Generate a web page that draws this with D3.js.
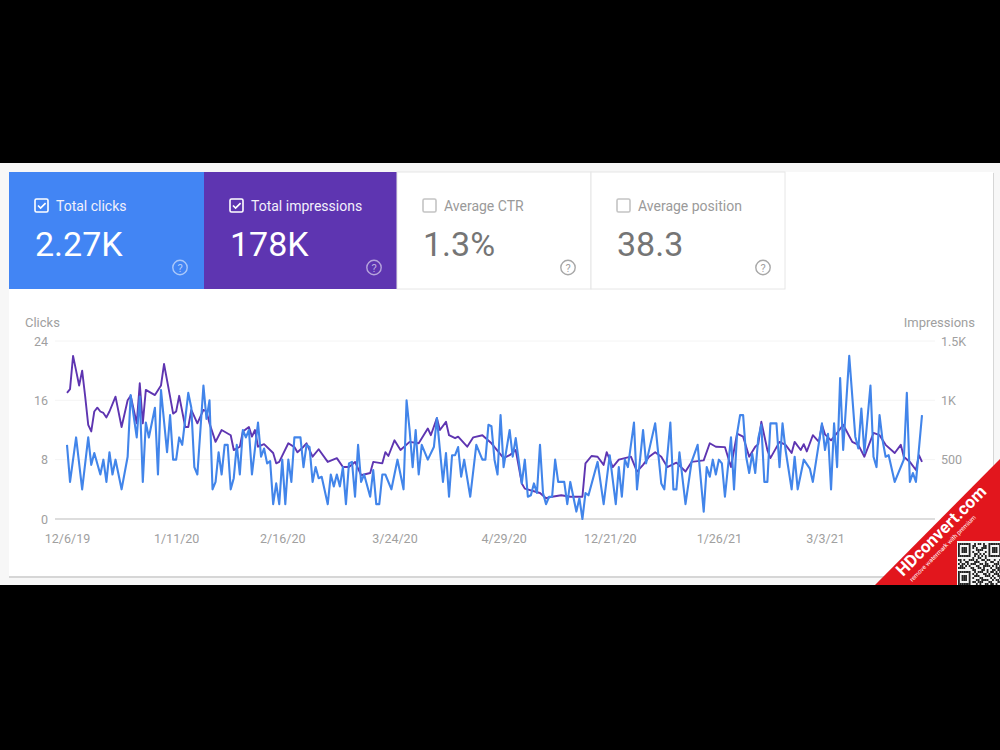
<!DOCTYPE html>
<html>
<head>
<meta charset="utf-8">
<script src="https://cdn.jsdelivr.net/npm/d3@7/dist/d3.min.js"></script>
<style>
  html, body { margin: 0; padding: 0; background: #000; }
  svg { display: block; }
  text { font-family: Roboto, "Open Sans", sans-serif; }
</style>
</head>
<body>
<svg id="chart" width="1000" height="750"></svg>
<script>
// Performance report: daily clicks and impressions, with summary tiles.
const metricNames = ["Total clicks", "Total impressions", "Average CTR", "Average position"];
const metricValues = ["2.27K", "178K", "1.3%", "38.3"];
const metricChecked = [true, true, false, false];

const dateLabels = ["12/6/19", "1/11/20", "2/16/20", "3/24/20", "4/29/20", "12/21/20", "1/26/21", "3/3/21"];
const dateTicks = [0, 36, 71, 108, 144, 179, 215, 250];
const clickTicks = [0, 8, 16, 24];
const impressionTicks = [0, 500, 1000, 1500];

// [day, clicks]
const clickSeries = [[0,10],[1,5],[3,11],[5,4],[7,11],[8,7.3],[9,8.9],[11,6],[12,8],[13,5],[14,9],[15,6],[16,8],[18,4],[20,8.4],[21,16.7],[23,11],[24,16.5],[25,5],[26,13],[27,11],[29,15],[30,6],[31,17.4],[33,9],[34,14],[35,8],[36,8],[37,11],[38,10],[40,17],[41,15],[42,7],[43,6],[45,18],[46,13.5],[47,16],[48,4],[49,5],[50,9],[51,6],[52,10],[53,10],[54,4],[55,5.5],[56,10],[57,6],[58,12],[59,11],[60,12],[61,6],[63,13],[64,8.4],[65,9.5],[66,7.5],[67,7.8],[68,2],[69,4.8],[70,2],[71,8],[72,2],[73,8],[74,5],[75,11],[77,11],[78,7],[79,10],[80,9.7],[81,5],[82,7],[83,5.5],[84,5.7],[86,2],[87,6],[88,4.4],[89,6],[90,4.4],[91,7],[92,2],[93,7.5],[94,7.7],[95,3],[96,10],[97,5],[98,6],[100,3],[101,6.6],[102,2],[103,2],[104,6],[105,6],[107,4],[109,8],[111,4],[112,16],[113,12],[114,7],[115,12],[116,6],[117,10],[119,8],[121,9.7],[122,13.6],[124,5],[125,8.9],[126,3],[127,8.6],[128,8.6],[129,9.7],[130,5.7],[131,8],[133,3],[135,10],[137,8],[138,8],[139,12.7],[140,12.5],[141,8],[142,6],[143,14],[144,7],[146,12],[147,8.4],[148,10.9],[150,4.8],[151,8],[152,3],[153,3.2],[154,4.8],[155,3.5],[156,10],[157,3.5],[158,2],[159,3],[160,3],[161,8],[162,5],[164,5],[165,2],[166,5],[167,3],[168,1],[169,2.8],[170,0],[171,3.5],[172,3.2],[175,7.7],[177,2],[179,8.6],[181,2],[182,7],[183,3],[184,8],[185,7],[187,13],[188,4],[190,12],[191,7.5],[194,12.9],[196,4.8],[197,4],[199,13],[200,4],[201,4],[202,9],[204,2],[206,7.7],[208,10],[210,1],[211,7],[212,5.7],[213,8],[214,6],[215,8],[216,7.5],[217,3],[219,11],[220,4],[221,11.5],[222,14],[223,14],[224,8.4],[225,6.2],[226,8.8],[227,6.2],[228,10.9],[229,12.7],[230,5],[231,5],[232,12.9],[234,12.9],[235,7],[236,12.9],[237,9.3],[239,4],[240,8.4],[241,4],[243,8],[245,6.8],[246,5],[249,12.9],[250,9.3],[251,11.5],[252,4],[253,12.9],[254,7],[255,19],[256,9.3],[258,22],[260,11.1],[261,9.5],[262,14.9],[263,8.9],[265,18],[266,8.4],[267,7],[268,14],[269,10.6],[270,8.4],[271,8.6],[273,5],[276,8],[277,17],[278,5],[279,6.2],[280,5],[282,14]];

// [day, impressions]
const impressionSeries = [[0,1063],[1,1094],[2,1375],[3,1250],[4,1125],[5,1250],[6,1031],[7,794],[8,738],[9,906],[10,938],[11,906],[12,894],[13,856],[14,906],[16,1031],[18,775],[20,1000],[21,1038],[23,806],[24,1144],[25,806],[26,1088],[29,1044],[31,1125],[32,1306],[34,1031],[35,888],[36,906],[37,1038],[39,775],[40,775],[41,919],[43,806],[45,919],[46,906],[47,806],[49,650],[51,750],[54,706],[55,581],[57,609],[58,738],[60,775],[61,694],[62,750],[63,609],[65,631],[68,556],[69,469],[70,481],[73,638],[75,606],[76,563],[78,609],[79,638],[81,525],[83,588],[86,481],[89,513],[91,438],[93,438],[95,481],[97,369],[100,388],[101,481],[104,469],[105,563],[106,531],[108,663],[110,581],[113,650],[116,638],[119,763],[120,706],[122,850],[123,750],[125,819],[126,706],[128,681],[129,694],[132,609],[134,688],[137,706],[140,638],[144,513],[146,538],[148,581],[150,300],[151,256],[156,219],[158,175],[160,188],[163,200],[166,188],[170,188],[171,469],[173,531],[175,525],[177,456],[178,563],[180,438],[182,500],[184,513],[186,525],[188,400],[190,456],[192,525],[194,563],[196,525],[198,438],[201,475],[204,400],[206,481],[210,494],[212,638],[214,609],[217,606],[219,438],[221,719],[223,694],[225,525],[227,609],[228,631],[229,819],[231,581],[232,513],[235,650],[237,625],[239,556],[240,650],[242,581],[243,631],[244,569],[246,706],[248,650],[249,794],[250,713],[252,663],[254,725],[256,794],[259,650],[261,625],[263,525],[266,725],[268,706],[270,625],[273,556],[275,625],[276,525],[278,481],[280,413],[281,538],[282,481]];

// Bit rows of the corner square code, one hex string per row.
const codeRows = ["fe5a7f","82c341","baa75d","ba3c5d","ba915d","826a41","fe557f","009900","d3a6c9","4c7132","b5cd8e","6a33d5","f19a27","00c69b","fe5cb5","82a34e","ba71d3","ba8c29","ba3796","82dc63","fe29b4"];

const svg = d3.select("#chart");

// Page and card backdrop
svg.append("rect").attr("x", 0).attr("y", 163).attr("width", 1000).attr("height", 422).attr("fill", "#f7f7f7");
svg.append("rect").attr("x", 9).attr("y", 173).attr("width", 985).attr("height", 405).attr("fill", "#d6d6d6");
svg.append("rect").attr("x", 9).attr("y", 172).attr("width", 984).attr("height", 404).attr("fill", "#fff");

// Summary tiles
const tileX = [9, 204, 397, 591];
const tileW = [195, 193, 194, 194];
const tileFill = ["#4285f4", "#5e35b1", "#fff", "#fff"];
const tiles = svg.selectAll("g.tile").data(metricNames).join("g")
  .attr("class", "tile")
  .attr("transform", (d, i) => `translate(${tileX[i]},172)`);

tiles.append("rect")
  .attr("width", (d, i) => tileW[i]).attr("height", 117)
  .attr("fill", (d, i) => tileFill[i])
  .attr("stroke", (d, i) => metricChecked[i] ? "none" : "#e6e6e6");

tiles.append("rect")
  .attr("x", 26).attr("y", 27).attr("width", 13).attr("height", 13).attr("rx", 1.5)
  .attr("fill", "none")
  .attr("stroke", (d, i) => metricChecked[i] ? "#fff" : "#c4c4c4")
  .attr("stroke-width", 1.6);

tiles.filter((d, i) => metricChecked[i]).append("path")
  .attr("d", "M29 33.5l2.6 2.6 5-5")
  .attr("fill", "none").attr("stroke", "#fff").attr("stroke-width", 1.7);

tiles.append("text")
  .attr("x", 47).attr("y", 38.5)
  .attr("font-size", 14)
  .attr("fill", (d, i) => metricChecked[i] ? "#f2f0fb" : "#9a9a9a")
  .text(d => d);

tiles.append("text")
  .attr("x", 26).attr("y", 84)
  .attr("font-size", 34)
  .attr("fill", (d, i) => metricChecked[i] ? "#fff" : "#757575")
  .text((d, i) => metricValues[i]);

// Help icons
const helpX = [171, 170, 171, 172];
tiles.append("circle")
  .attr("cx", (d, i) => helpX[i]).attr("cy", 95.5).attr("r", 7.2)
  .attr("fill", "none")
  .attr("stroke", (d, i) => metricChecked[i] ? "rgba(255,255,255,0.55)" : "#a8a8a8")
  .attr("stroke-width", 1.4);
tiles.append("text")
  .attr("x", (d, i) => helpX[i]).attr("y", 99.5)
  .attr("text-anchor", "middle").attr("font-size", 11)
  .attr("fill", (d, i) => metricChecked[i] ? "rgba(255,255,255,0.6)" : "#a0a0a0")
  .text("?");

// Scales for the plot
const x = d3.scaleLinear().domain([0, 282]).range([67, 922]);
const yClicks = d3.scaleLinear().domain([0, 24]).range([519, 341]);
const yImpressions = d3.scaleLinear().domain([0, 1500]).range([519, 341]);

// Gridlines and baseline
svg.append("g").selectAll("line").data(clickTicks).join("line")
  .attr("x1", 55).attr("x2", 935)
  .attr("y1", d => yClicks(d)).attr("y2", d => yClicks(d))
  .attr("stroke", d => d === 0 ? "#d2d2d2" : "#f4f4f4")
  .attr("stroke-width", d => d === 0 ? 1.6 : 1);

// Axes
const styleAxis = g => {
  g.select(".domain").remove();
  g.selectAll(".tick line").remove();
  g.selectAll("text").attr("fill", "#a0a0a0").attr("font-size", 12.5)
    .style("font-family", "Roboto, sans-serif");
};
svg.append("g").attr("transform", "translate(48,0)")
  .call(d3.axisLeft(yClicks).tickValues(clickTicks).tickSize(0).tickPadding(0))
  .call(styleAxis);
svg.append("g").attr("transform", "translate(941,0)")
  .call(d3.axisRight(yImpressions).tickValues(impressionTicks.slice(1)).tickSize(0).tickPadding(0)
    .tickFormat(d => d === 500 ? "500" : (d / 1000) + "K"))
  .call(styleAxis);
svg.append("g").attr("transform", "translate(0,534)")
  .call(d3.axisBottom(x).tickValues(dateTicks).tickSize(0).tickPadding(0)
    .tickFormat((d, i) => dateLabels[i]))
  .call(styleAxis);

svg.append("text").attr("x", 25).attr("y", 327).attr("font-size", 13).attr("fill", "#a0a0a0").text("Clicks");
svg.append("text").attr("x", 975).attr("y", 327).attr("text-anchor", "end").attr("font-size", 13).attr("fill", "#a0a0a0").text("Impressions");

// Series lines
const impressionLine = d3.line().x(d => x(d[0])).y(d => yImpressions(d[1]));
const clickLine = d3.line().x(d => x(d[0])).y(d => yClicks(d[1]));

svg.append("path").datum(impressionSeries)
  .attr("d", impressionLine)
  .attr("fill", "none").attr("stroke", "#5e35b1").attr("stroke-width", 1.9).attr("stroke-linejoin", "round");
svg.append("path").datum(clickSeries)
  .attr("d", clickLine)
  .attr("fill", "none").attr("stroke", "#4285ea").attr("stroke-width", 2.1).attr("stroke-linejoin", "round");

// Corner badge
svg.append("path").attr("d", "M875 585L1000 459V585Z").attr("fill", "#e2161d");
const badge = svg.append("g").attr("transform", "translate(903,577) rotate(-45)");
badge.append("text").attr("font-size", 17).attr("font-weight", 700).attr("fill", "#fff").text("HDconvert.com");
badge.append("text").attr("x", 3).attr("y", 10).attr("font-size", 6.2).attr("fill", "#fff").text("remove watermark with premium");

// Corner square code
const cell = 43 / 24;
const code = svg.append("g").attr("transform", "translate(957,541)");
code.append("rect").attr("width", 43).attr("height", 44).attr("fill", "#f4f4f4");
codeRows.forEach((row, r) => {
  const bits = parseInt(row, 16);
  d3.range(24).forEach(c => {
    if ((bits >> (23 - c)) & 1) {
      code.append("rect")
        .attr("x", 1 + c * cell).attr("y", 2 + r * 2)
        .attr("width", cell).attr("height", 2)
        .attr("fill", "#222");
    }
  });
});
</script>
</body>
</html>
